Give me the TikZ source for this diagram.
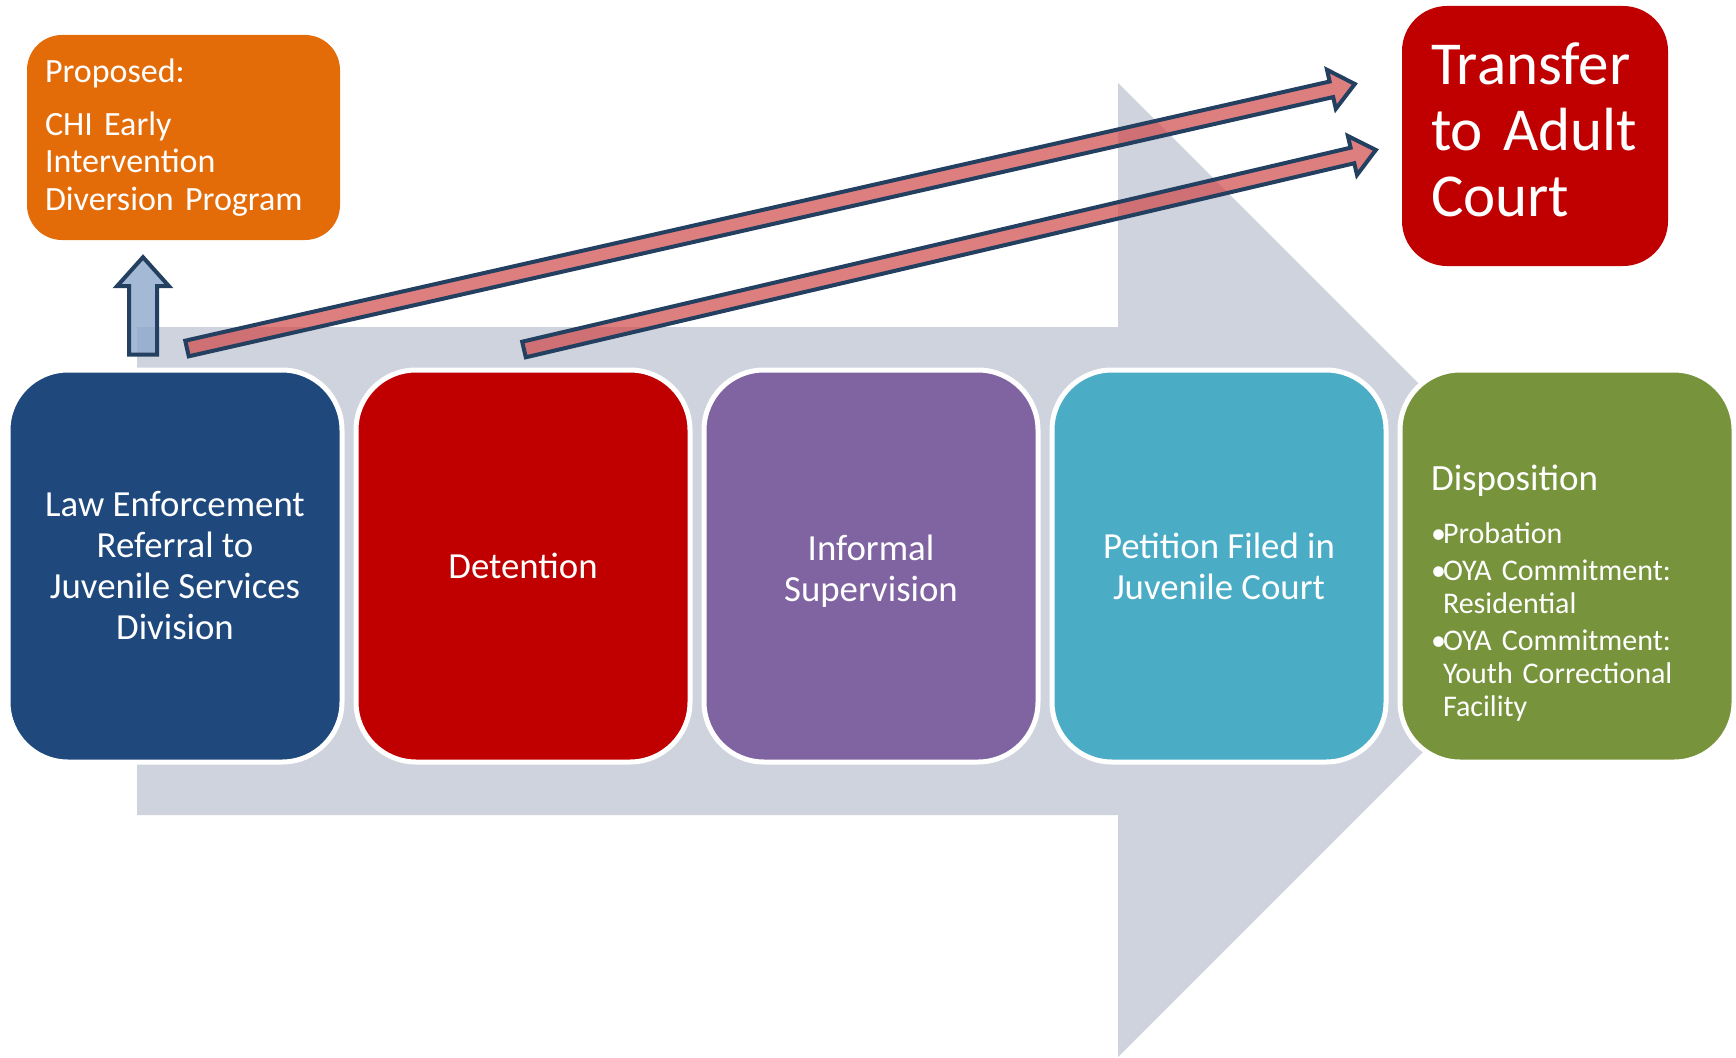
\documentclass[tikz,border=0pt]{standalone}
\usepackage{fontspec}
\setmainfont{Carlito}
\usetikzlibrary{positioning,calc}

\definecolor{lawblue}{RGB}{31,73,125}
\definecolor{detred}{RGB}{192,0,0}
\definecolor{infpurple}{RGB}{128,100,162}
\definecolor{petteal}{RGB}{75,172,198}
\definecolor{dispgreen}{RGB}{119,147,60}
\definecolor{proporange}{RGB}{227,108,9}
\definecolor{flowgray}{RGB}{206,211,222}
\definecolor{arrowedge}{RGB}{36,64,97}
\definecolor{arrowpink}{RGB}{208,72,72}
\definecolor{arrowblue}{RGB}{140,168,204}

% fat block arrow: start, end, shaft half width, head half width, head length
\newcommand{\fatarrow}[6][]{%
  \coordinate (fa-b) at ($(#3)!#6!(#2)$);
  \draw[#1] ($(#2)!#4!90:(#3)$) -- ($(fa-b)!#4!-90:(#2)$) -- ($(fa-b)!#5!-90:(#2)$)
    -- (#3) -- ($(fa-b)!#5!90:(#2)$) -- ($(fa-b)!#4!90:(#2)$) -- ($(#2)!#4!-90:(#3)$) -- cycle;}

\begin{document}
\begin{tikzpicture}
          [x=1pt, y=-1pt,
          node distance=9pt,
          flowbox/.style={draw=white, line width=5pt, rounded corners=60pt, minimum width=334pt,
              minimum height=392pt, inner sep=0pt, text=white, align=center,
              font=\fontsize{36.8}{41}\selectfont},
          propbox/.style={fill=proporange, rounded corners=35pt, minimum width=313pt, minimum height=205pt,
              inner sep=0pt, text width=277pt, align=left, text=white, font=\fontsize{34}{37.6}\selectfont},
          transferbox/.style={fill=detred, rounded corners=45pt, minimum width=266pt, minimum height=260pt,
              inner sep=0pt, text width=208pt, align=left, text=white, font=\fontsize{61}{66}\selectfont},
          redarrow/.style={draw=arrowedge, line width=4pt, line join=miter, fill=arrowpink, fill opacity=0.7},
          uparrow/.style={draw=arrowedge, line width=4pt, line join=miter, fill=arrowblue, fill opacity=0.8}]

          \useasboundingbox (0,0) rectangle (1736,1057);
          \fill[flowgray] (137,327) -- (1118,327) -- (1118,83) -- (1605,570) -- (1118,1057)
              -- (1118,815) -- (137,815) -- cycle;

          \node [flowbox, fill=lawblue] (law) at (175,566) {Law Enforcement\\Referral to\\Juvenile Services\\Division};
          \node [flowbox, fill=detred, right=of law] (detention) {Detention};
          \node [flowbox, fill=infpurple, right=of detention] (informal) {\rule{0pt}{35pt}Informal\\Supervision};
          \node [flowbox, fill=petteal, right=of informal] (petition) {Petition Filed in\\Juvenile Court};
          \node [flowbox, fill=dispgreen, right=of petition, align=left, text width=272pt,
              font=\fontsize{30}{33}\selectfont] (disposition)
              {\rule{0pt}{80pt}{\fontsize{37}{40}\selectfont Disposition}\\[20pt]
              \makebox[12pt][l]{•}Probation\\[4pt]
              \makebox[12pt][l]{•}OYA Commitment:\\
              \hspace*{12pt}Residential\\[4pt]
              \makebox[12pt][l]{•}OYA Commitment:\\
              \hspace*{12pt}Youth Correctional\\
              \hspace*{12pt}Facility};

          \node [propbox] (proposed) at (183.5,137.5) {Proposed:\\[15pt]CHI Early\\Intervention\\Diversion Program};
          \node [transferbox] (transfer) at (1535,136) {Transfer\\to Adult\\Court\rule[-12pt]{0pt}{12pt}};

          \coordinate (upfrom) at ($(law.north)+(-32,-13)$);
          \coordinate (upto) at ($(proposed.south)+(-40.5,17)$);
          \coordinate (lawout) at ($(law.north)+(12,-19)$);
          \coordinate (transin1) at ($(transfer.west)+(-47,-52)$);
          \coordinate (detout) at ($(detention.north)+(1,-18)$);
          \coordinate (transin2) at ($(transfer.west)+(-26,14)$);

          \fatarrow[uparrow]{upfrom}{upto}{14pt}{26pt}{29pt}
          \fatarrow[redarrow]{lawout}{transin1}{8pt}{20pt}{24pt}
          \fatarrow[redarrow]{detout}{transin2}{8pt}{20pt}{24pt}
  \end{tikzpicture}
\end{document}
